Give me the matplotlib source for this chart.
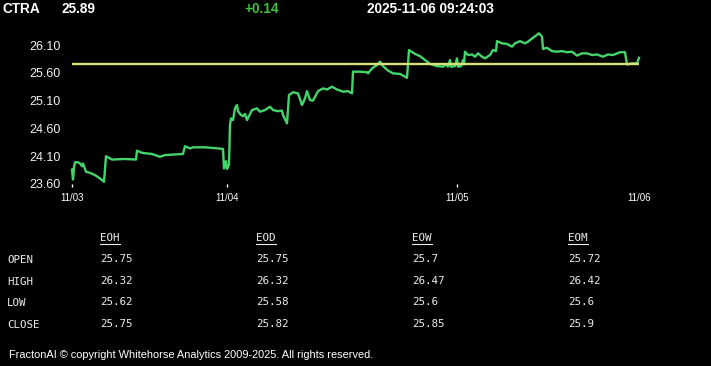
import numpy as np
import matplotlib
matplotlib.use("Agg")
import matplotlib.pyplot as plt
from matplotlib.lines import Line2D

# intraday bars (bar index since 11/03 open) and price
t = [0, 1, 2, 3, 6, 8, 10, 11, 14, 18, 23, 28, 32, 34, 40, 53, 64, 65, 70, 80,
     88, 93, 111, 113, 118, 121, 133, 146, 151, 152, 154, 155, 157, 158, 159, 161,
     163, 165, 166, 169, 171, 173, 175, 180, 185, 188, 193, 198, 201, 206, 210,
     211, 215, 217, 221, 226, 230, 233, 235, 238, 241, 246, 251, 255, 260, 265,
     271, 276, 280, 281, 288, 295, 296, 300, 305, 308, 311, 316, 321, 328, 333,
     335, 337, 343, 348, 353, 358, 365, 371, 374, 376, 378, 379, 383, 385, 386,
     389, 391, 392, 393, 396, 400, 403, 406, 410, 413, 418, 421, 424, 425, 430,
     435, 440, 443, 448, 453, 456, 461, 467, 470, 471, 475, 480, 485, 490, 495,
     500, 505, 510, 515, 520, 525, 531, 536, 541, 548, 553, 555, 560, 565, 567]
price = [23.86, 23.68, 23.90, 23.99, 23.99, 23.97, 23.92, 23.97, 23.82, 23.80,
         23.76, 23.70, 23.64, 24.10, 24.04, 24.05, 24.04, 24.20, 24.16, 24.14,
         24.09, 24.12, 24.14, 24.28, 24.24, 24.26, 24.26, 24.24, 24.23, 23.88,
         24.01, 23.87, 23.95, 24.66, 24.78, 24.75, 24.96, 25.02, 24.91, 24.84,
         24.82, 24.86, 24.75, 24.93, 24.96, 24.90, 24.93, 24.99, 24.93, 24.91,
         24.92, 24.84, 24.69, 25.20, 25.25, 25.23, 25.02, 25.14, 25.27, 25.11,
         25.10, 25.27, 25.32, 25.30, 25.35, 25.30, 25.26, 25.27, 25.23, 25.62,
         25.62, 25.61, 25.59, 25.68, 25.74, 25.80, 25.72, 25.64, 25.59, 25.58,
         25.53, 25.51, 26.01, 25.94, 25.90, 25.83, 25.76, 25.72, 25.71, 25.75,
         25.71, 25.83, 25.71, 25.72, 25.86, 25.71, 25.72, 25.83, 25.75, 25.98,
         25.92, 25.93, 25.89, 25.95, 25.89, 25.86, 25.92, 26.01, 25.99, 26.17,
         26.13, 26.12, 26.07, 26.13, 26.17, 26.13, 26.16, 26.23, 26.31, 26.25,
         26.03, 26.05, 25.99, 25.98, 25.99, 25.97, 25.98, 25.91, 25.95, 25.95,
         25.92, 25.93, 25.89, 25.93, 25.92, 25.97, 25.97, 25.75, 25.77, 25.77,
         25.87]
open_price = 25.75

day_ticks = [0, 155, 385, 567]
day_labels = ["11/03", "11/04", "11/05", "11/06"]
y_ticks = [23.60, 24.10, 24.60, 25.10, 25.60, 26.10]

symbol = "CTRA"
last = "25.89"
change = "+0.14"
stamp = "2025-11-06 09:24:03"

periods = ["EOH", "EOD", "EOW", "EOM"]
rows = ["OPEN", "HIGH", "LOW", "CLOSE"]
table = [["25.75", "25.75", "25.7", "25.72"],
         ["26.32", "26.32", "26.47", "26.42"],
         ["25.62", "25.58", "25.6", "25.6"],
         ["25.75", "25.82", "25.85", "25.9"]]

W, H = 711, 366
fig = plt.figure(figsize=(W / 100, H / 100), dpi=100, facecolor="black")

def px(x, y):
    return x / W, 1 - y / H

ax = fig.add_axes([72 / W, 1 - 184 / H, (639 - 72) / W, (184 - 30) / H])
ax.set_facecolor("black")
for s in ax.spines.values():
    s.set_visible(False)

ax.plot(t, price, color="#45d46c", lw=1.7, clip_on=False, zorder=2)
ax.hlines(open_price, t[0], t[-1], color="#d9e27a", lw=1.7, zorder=3)

ax.set_xlim(0, 567)
ax.set_ylim(23.60, 26.37)
ax.set_xticks(day_ticks)
ax.set_xticklabels(day_labels)
ax.set_yticks(y_ticks)
ax.set_yticklabels(["%.2f" % v for v in y_ticks])
ax.tick_params(axis="x", colors="white", direction="out", length=2.5, width=1,
               pad=4, labelsize=7)
ax.tick_params(axis="y", colors="#f0f0f0", length=0, pad=8, labelsize=9)
ax.xaxis.get_major_ticks()[-1].tick1line.set_visible(False)
for lab in ax.get_xticklabels() + ax.get_yticklabels():
    lab.set_fontfamily("Liberation Sans")

# header
hdr = dict(fontsize=9.8, fontweight="bold", family="Liberation Sans", va="center")
fig.text(*px(3, 9), symbol, color="white", **hdr)
fig.text(*px(61, 9), last, color="white", **hdr)
fig.text(*px(244, 9), change, color="#3cbf3c", **hdr)
fig.text(*px(367, 9), stamp, color="white", **hdr)

# OHLC table
mono = dict(fontsize=7.8, family="DejaVu Sans Mono", color="#ececec", va="center")
cols = [100, 256, 412, 568]
for c, name in zip(cols, periods):
    fig.text(*px(c, 238), name, **mono)
    fig.add_artist(Line2D([c / W, (c + 20) / W], [1 - 244 / H] * 2,
                          color="#ececec", lw=0.8))
for r, (name, vals) in enumerate(zip(rows, table)):
    y = 260 + r * 21.7
    fig.text(*px(7, y), name, **mono)
    for c, v in zip(cols, vals):
        fig.text(*px(c, y - 1), v, **mono)

fig.text(*px(9, 355), "FractonAI \u00a9 copyright Whitehorse Analytics 2009-2025. All rights reserved.",
         fontsize=7.9, family="Liberation Sans", color="white", va="center")

fig.savefig("out.png", dpi=100, facecolor="black")
